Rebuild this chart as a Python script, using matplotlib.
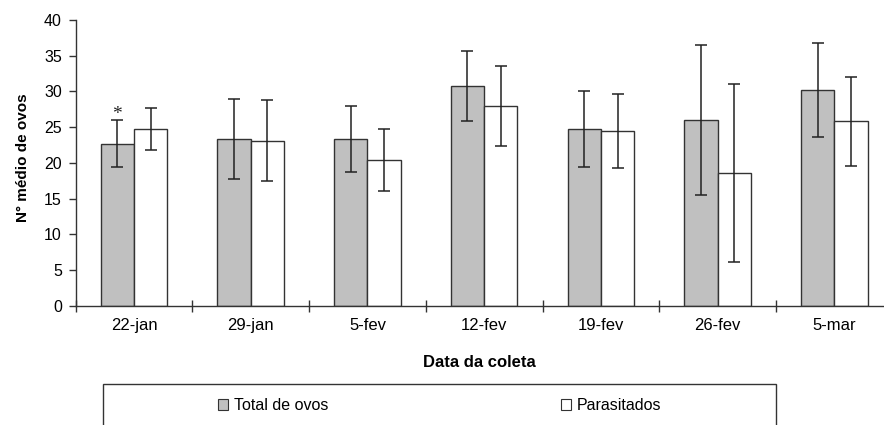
import matplotlib
matplotlib.use("Agg")
import matplotlib.pyplot as plt
from matplotlib.patches import Patch, Rectangle
import numpy as np

plt.rcParams['font.family'] = ['Liberation Sans', 'DejaVu Sans']

# Mean number of eggs per collection date, with standard deviations
datas = ["22-jan", "29-jan", "5-fev", "12-fev", "19-fev", "26-fev", "5-mar"]
total_ovos = [22.7, 23.3, 23.3, 30.7, 24.7, 26.0, 30.2]
total_dp = [3.3, 5.6, 4.6, 4.9, 5.3, 10.5, 6.6]
parasitados = [24.7, 23.1, 20.4, 28.0, 24.5, 18.6, 25.8]
parasitados_dp = [2.95, 5.7, 4.3, 5.6, 5.2, 12.5, 6.2]
yticks = [0, 5, 10, 15, 20, 25, 30, 35, 40]

W, H = 884, 425
fig = plt.figure(figsize=(W / 100, H / 100), dpi=100)

# axes box in pixels (the right end runs slightly past the canvas)
left_px, right_px, bottom_px, top_px = 75.7, 892.6, 305.7, 20.0
ax = fig.add_axes([left_px / W, (H - bottom_px) / H,
                   (right_px - left_px) / W, (bottom_px - top_px) / H])

n = len(datas)
centers = np.arange(n) + 0.5
bw = 0.2857
edge = '#333333'
gray = '#C0C0C0'

ax.bar(centers - bw / 2, total_ovos, width=bw, color=gray, edgecolor=edge,
       linewidth=1.0, zorder=2)
ax.bar(centers + bw / 2, parasitados, width=bw, color='white', edgecolor=edge,
       linewidth=1.0, zorder=2)
ax.errorbar(centers - bw / 2, total_ovos, yerr=total_dp, fmt='none',
            ecolor='#222222', elinewidth=1.1, capsize=4, capthick=1.1, zorder=3)
ax.errorbar(centers + bw / 2, parasitados, yerr=parasitados_dp, fmt='none',
            ecolor='#222222', elinewidth=1.1, capsize=4, capthick=1.1, zorder=3)

# significance mark over the first date
ax.annotate('*', xy=(centers[0] - bw / 2, total_ovos[0] + total_dp[0]),
            xytext=(0, -2), textcoords='offset points', ha='center', va='bottom',
            fontsize=14, family='Liberation Serif', color='#222222')

ax.set_xlim(0, n)
ax.set_ylim(0, 40)
ax.set_yticks(yticks)
ax.set_yticklabels([str(v) for v in yticks], fontsize=11.5)
ax.set_xticks(np.arange(n + 1))
ax.set_xticklabels([])
ax.set_xticks(centers, minor=True)
ax.set_xticklabels(datas, minor=True, fontsize=12)
ax.tick_params(axis='x', which='major', direction='inout', length=8,
               width=1, color=edge)
ax.tick_params(axis='x', which='minor', length=0, pad=9)
ax.tick_params(axis='y', direction='out', length=5, width=1, color=edge, pad=5)

for s in ['top', 'right']:
    ax.spines[s].set_visible(False)
for s in ['left', 'bottom']:
    ax.spines[s].set_color(edge)
    ax.spines[s].set_linewidth(1.0)

ax.set_ylabel('N° médio de ovos', fontsize=11, fontweight='bold')
ax.yaxis.set_label_coords(-0.056, 0.517)
ax.set_xlabel('Data da coleta', fontsize=12, fontweight='bold')
ax.xaxis.set_label_coords(0.4937, -0.172)

# legend frame and entries
fig.add_artist(Rectangle((103.3 / W, -0.2), (776 - 103.3) / W, 0.2 + (H - 384.3) / H,
                         transform=fig.transFigure, fill=False,
                         edgecolor=edge, linewidth=1.0))
ly = (H - 405.7) / H
h1 = Patch(facecolor=gray, edgecolor=edge, linewidth=0.8, label='Total de ovos')
h2 = Patch(facecolor='white', edgecolor=edge, linewidth=0.8, label='Parasitados')
for h, xpx in [(h1, 218.0), (h2, 561.0)]:
    fig.legend(handles=[h], loc='center left', bbox_to_anchor=(xpx / W, ly),
               frameon=False, borderpad=0, borderaxespad=0, handlelength=0.65,
               handleheight=0.65, handletextpad=0.35, fontsize=11.5)

fig.savefig('out.png', dpi=100)
